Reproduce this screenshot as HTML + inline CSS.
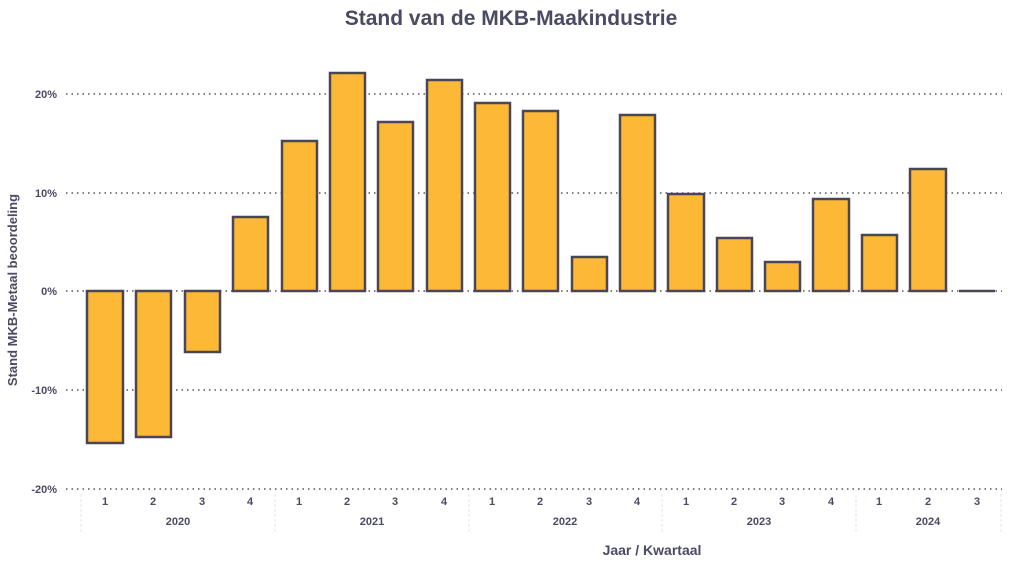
<!DOCTYPE html><html><head><style>body{margin:0;background:#fff}</style></head><body>
<svg width="1024" height="577" xmlns="http://www.w3.org/2000/svg" font-family="Liberation Sans, sans-serif">
<rect width="1024" height="577" fill="#fff"/>
<text x="511" y="25" text-anchor="middle" font-size="21" font-weight="bold" fill="#4a4a63">Stand van de MKB-Maakindustrie</text>
<g stroke="#555" stroke-width="1.5" stroke-dasharray="1.5,4">
<line x1="66" x2="1002" y1="94" y2="94"/><line x1="66" x2="1002" y1="193" y2="193"/><line x1="66" x2="1002" y1="291" y2="291"/><line x1="66" x2="1002" y1="390" y2="390"/><line x1="66" x2="1002" y1="489" y2="489"/></g>
<g font-size="11" font-weight="bold" fill="#4a4a63" text-anchor="end">
<text x="57" y="98">20%</text><text x="57" y="197">10%</text><text x="57" y="295">0%</text><text x="57" y="394">-10%</text><text x="57" y="493">-20%</text></g>
<text transform="translate(17,290) rotate(-90)" text-anchor="middle" font-size="13" font-weight="bold" fill="#4a4a63">Stand MKB-Metaal beoordeling</text>
<g fill="#FDB935" stroke="#4b4558" stroke-width="2.5">
<rect x="87" y="291" width="36" height="152"/><rect x="136" y="291" width="35" height="146"/><rect x="185" y="291" width="35" height="61"/><rect x="233" y="217" width="35" height="74"/>
<rect x="282" y="141" width="35" height="150"/><rect x="330" y="73" width="35" height="218"/><rect x="378" y="122" width="35" height="169"/><rect x="427" y="80" width="35" height="211"/>
<rect x="475" y="103" width="35" height="188"/><rect x="523" y="111" width="35" height="180"/><rect x="572" y="257" width="35" height="34"/><rect x="620" y="115" width="35" height="176"/>
<rect x="668" y="194" width="36" height="97"/><rect x="717" y="238" width="35" height="53"/><rect x="765" y="262" width="35" height="29"/><rect x="813" y="199" width="36" height="92"/>
<rect x="862" y="235" width="35" height="56"/><rect x="910" y="169" width="36" height="122"/></g>
<line x1="959" x2="995" y1="291" y2="291" stroke="#4b4558" stroke-width="2.5"/>
<g stroke="#e4e4ea" stroke-width="1" stroke-dasharray="3,2"><line x1="81" x2="81" y1="494" y2="532"/><line x1="275" x2="275" y1="494" y2="532"/><line x1="469" x2="469" y1="494" y2="532"/><line x1="662" x2="662" y1="494" y2="532"/><line x1="856" x2="856" y1="494" y2="532"/><line x1="1001" x2="1001" y1="494" y2="532"/></g>
<g font-size="11" font-weight="bold" fill="#4a4a63" text-anchor="middle">
<text x="105" y="505">1</text><text x="153" y="505">2</text><text x="202" y="505">3</text><text x="250" y="505">4</text>
<text x="299" y="505">1</text><text x="347" y="505">2</text><text x="395" y="505">3</text><text x="444" y="505">4</text>
<text x="492" y="505">1</text><text x="540" y="505">2</text><text x="589" y="505">3</text><text x="637" y="505">4</text>
<text x="686" y="505">1</text><text x="734" y="505">2</text><text x="782" y="505">3</text><text x="831" y="505">4</text>
<text x="879" y="505">1</text><text x="928" y="505">2</text><text x="977" y="505">3</text>
<text x="178" y="525">2020</text><text x="372" y="525">2021</text><text x="565" y="525">2022</text><text x="759" y="525">2023</text><text x="928" y="525">2024</text></g>
<text x="652" y="555" text-anchor="middle" font-size="14" font-weight="bold" fill="#4a4a63">Jaar / Kwartaal</text>
</svg></body></html>
